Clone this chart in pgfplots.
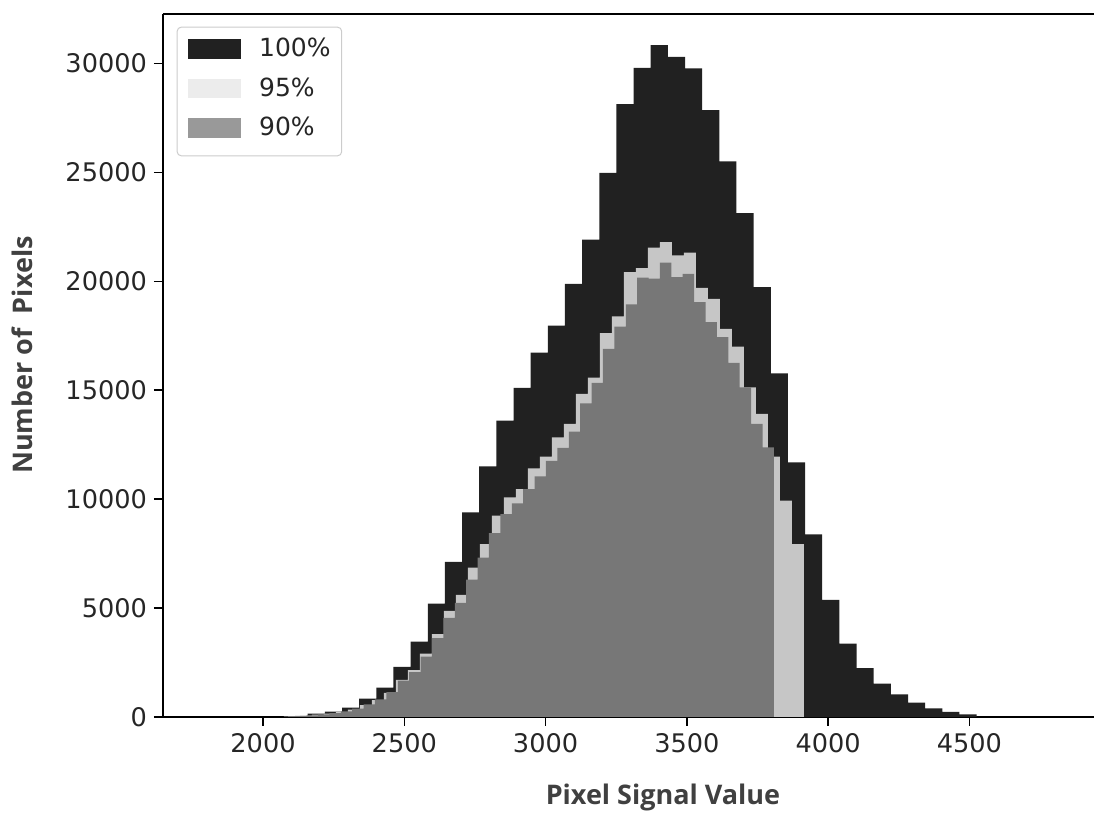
\documentclass[border=0pt]{standalone}
\usepackage{pgfplots}
\pgfplotsset{compat=1.18}
\usepackage{fontspec}
\setmainfont{DejaVu Sans}
\newfontfamily\labelfont{Open Sans}
\definecolor{cdark}{HTML}{212121}
\definecolor{clight}{HTML}{C6C6C6}
\definecolor{cgray}{HTML}{777777}
\definecolor{lgdlight}{HTML}{ECECEC}
\definecolor{lgdgray}{HTML}{999999}
\begin{document}
\begin{tikzpicture}
\begin{axis}[
  scale only axis, width=465.5pt, height=351.5pt,
  xmin=1646, xmax=4941, ymin=0, ymax=32270,
  axis x line*=box, axis y line*=left,
  tick pos=left,
  tick align=outside,
  major tick length=4.5pt,
  every tick/.style={black, line width=0.75pt},
  axis line style={black, line width=0.9pt},
  xtick={2000,2500,3000,3500,4000,4500},
  ytick={0,5000,10000,15000,20000,25000,30000},
  scaled ticks=false,
  /pgf/number format/1000 sep={},
  /pgf/number format/assume math mode=true,
  ticklabel style={font=\fontsize{12.8}{15}\selectfont, text=black!85},
  xlabel={Pixel Signal Value},
  ylabel={Number of\ \ Pixels},
  label style={font=\labelfont\bfseries\fontsize{13.5}{16}\selectfont, text=black!75},
  xlabel style={at={(axis description cs:0.537,-0.1152)}, anchor=center},
  ylabel style={at={(axis description cs:-0.1515,0.515)}, anchor=center},
  legend style={at={(axis description cs:0,1)}, anchor=north west, xshift=6.85pt, yshift=-6.35pt,
    draw=black!20, rounded corners=2pt, line width=0.5pt, inner xsep=5.5pt, inner ysep=5.5pt,
    font=\fontsize{12.5}{15}\selectfont, text=black!85,
    nodes={inner sep=0pt, anchor=west}, column sep=9pt, row sep=9pt},
  legend cell align=left,
]
\addplot[const plot, fill=cdark, draw=none, forget plot] coordinates {
(2158.2,150)(2218.9,244)(2279.6,427)(2340.3,841)(2401.0,1347)(2461.7,2298)(2522.4,3461)(2583.1,5207)(2643.8,7124)(2704.5,9390)(2765.2,11504)(2825.9,13604)(2886.6,15107)(2947.3,16729)(3008.0,17970)(3068.7,19887)(3129.4,21909)(3190.1,24971)(3250.8,28128)(3311.5,29796)(3372.2,30839)(3432.9,30301)(3493.6,29768)(3554.3,27852)(3615.0,25508)(3675.7,23132)(3736.4,19731)(3797.1,15778)(3857.8,11688)(3918.5,8388)(3979.2,5377)(4039.9,3369)(4100.6,2238)(4161.3,1530)(4222.0,1034)(4282.7,657)(4343.4,400)(4404.1,230)(4464.8,124)(4525.5,124)
} \closedcycle;
\addplot[const plot, fill=clight, draw=none, forget plot] coordinates {
(2088.42,25)(2130.88,60)(2173.34,104)(2215.80,152)(2258.26,227)(2300.72,337)(2343.18,540)(2385.64,779)(2428.10,1102)(2470.56,1700)(2513.02,2146)(2555.48,2909)(2597.94,3801)(2640.40,4872)(2682.86,5600)(2725.32,6862)(2767.78,7937)(2810.24,9238)(2852.70,10079)(2895.16,10465)(2937.62,11412)(2980.08,11950)(3022.54,12837)(3065.00,13453)(3107.46,14831)(3149.92,15580)(3192.38,17617)(3234.84,18384)(3277.30,20420)(3319.76,20604)(3362.22,21542)(3404.68,21799)(3447.14,21188)(3489.60,21312)(3532.06,19703)(3574.52,19198)(3616.98,17819)(3659.44,17005)(3701.90,15135)(3744.36,13912)(3786.82,11950)(3829.28,9927)(3871.74,7937)(3914.20,7937)
} \closedcycle;
\addplot[const plot, fill=cgray, draw=none, forget plot] coordinates {
(2073.58,23)(2113.92,46)(2154.26,79)(2194.60,121)(2234.94,174)(2275.28,255)(2315.62,383)(2355.96,576)(2396.30,809)(2436.64,1146)(2476.98,1668)(2517.32,2060)(2557.66,2770)(2598.00,3620)(2638.34,4552)(2678.68,5234)(2719.02,6309)(2759.36,7310)(2799.70,8436)(2840.04,9316)(2880.38,9804)(2920.72,10459)(2961.06,11050)(3001.40,11752)(3041.74,12350)(3082.08,13100)(3122.42,14400)(3162.76,15333)(3203.10,16900)(3243.44,17924)(3283.78,18936)(3324.12,20163)(3364.46,20117)(3404.80,20852)(3445.14,20190)(3485.48,20346)(3525.82,19041)(3566.16,18122)(3606.50,17433)(3646.84,16256)(3687.18,15135)(3727.52,13453)(3767.86,12377)(3808.20,12377)
} \closedcycle;
\addlegendimage{legend image code/.code={\fill[cdark, sharp corners] (0pt,-4.6pt) rectangle (26pt,4.6pt);}}
\addlegendentry{100\%}
\addlegendimage{legend image code/.code={\fill[lgdlight, sharp corners] (0pt,-4.6pt) rectangle (26pt,4.6pt);}}
\addlegendentry{95\%}
\addlegendimage{legend image code/.code={\fill[lgdgray, sharp corners] (0pt,-4.6pt) rectangle (26pt,4.6pt); \path (0pt,-8.1pt);}}
\addlegendentry{90\%}
\end{axis}
\pgfresetboundingbox
\useasboundingbox (-81.5pt,-48pt) rectangle (465.5pt,358.5pt);
\end{tikzpicture}
\end{document}
